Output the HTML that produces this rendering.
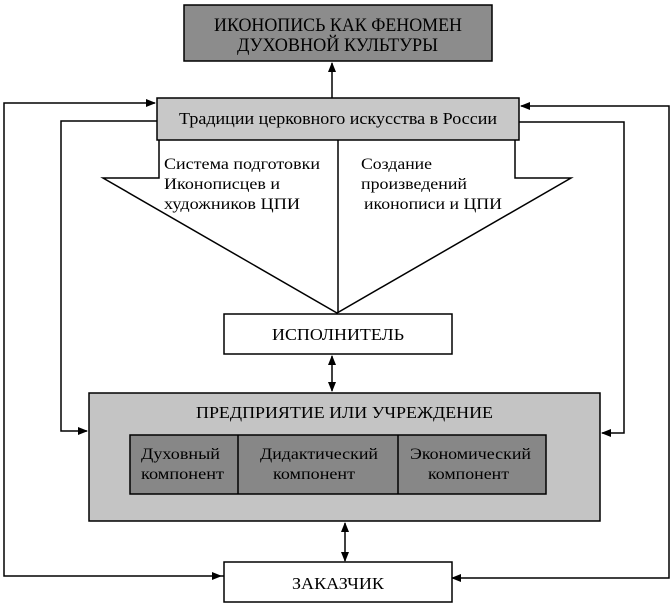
<!DOCTYPE html>
<html><head><meta charset="utf-8"><style>
html,body{margin:0;padding:0;background:#fff;}
svg{display:block;}
text{font-family:"Liberation Serif","DejaVu Serif",serif;fill:#000;}
</style></head><body>
<svg width="672" height="608" viewBox="0 0 672 608" xmlns="http://www.w3.org/2000/svg">
<defs>
<marker id="a" markerWidth="10" markerHeight="8" refX="9" refY="4" orient="auto" markerUnits="userSpaceOnUse">
<path d="M0,0 L10,4 L0,8 Z" fill="#000"/></marker>
<marker id="s" markerWidth="10" markerHeight="8" refX="1" refY="4" orient="auto" markerUnits="userSpaceOnUse">
<path d="M10,0 L0,4 L10,8 Z" fill="#000"/></marker>
</defs>
<g stroke="#000" stroke-width="1.5" fill="none">
<rect x="184" y="5" width="308" height="56" fill="#8c8c8c"/>
<line x1="332" y1="98" x2="332" y2="63" marker-end="url(#a)"/>
<rect x="157" y="98" width="362" height="42" fill="#c8c8c8"/>
<polyline points="224,576 4,576 4,103 155,103" marker-end="url(#a)"/>
<polyline points="452,578 669,578 669,106 521,106" marker-start="url(#s)" marker-end="url(#a)"/>
<polyline points="157,121 61,121 61,431 87,431" marker-end="url(#a)"/>
<polyline points="519,122 624,122 624,433 602,433" marker-end="url(#a)"/>
<polyline points="159,140 159,178 103,178 337,313 571,178 515,178 515,140"/>
<line x1="338" y1="140" x2="338" y2="313"/>
<rect x="224" y="314" width="228" height="40" fill="#fff"/>
<line x1="332" y1="356" x2="332" y2="391" marker-start="url(#s)" marker-end="url(#a)"/>
<rect x="89" y="393" width="511" height="128" fill="#c4c4c4"/>
<rect x="130" y="435" width="416" height="59" fill="#878787"/>
<line x1="238" y1="435" x2="238" y2="494"/>
<line x1="398" y1="435" x2="398" y2="494"/>
<line x1="345" y1="523" x2="345" y2="561" marker-start="url(#s)" marker-end="url(#a)"/>
<rect x="224" y="562" width="228" height="40" fill="#fff"/>
</g>
<path d="M212,572 L222,576 L212,580 Z" fill="#000"/>
<text x="214" y="31" font-size="19" textLength="248" lengthAdjust="spacingAndGlyphs">ИКОНОПИСЬ КАК ФЕНОМЕН</text>
<text x="237" y="51" font-size="19" textLength="201" lengthAdjust="spacingAndGlyphs">ДУХОВНОЙ КУЛЬТУРЫ</text>
<text x="179" y="124" font-size="17" textLength="318" lengthAdjust="spacingAndGlyphs">Традиции церковного искусства в России</text>
<text x="164" y="169" font-size="16" textLength="156" lengthAdjust="spacingAndGlyphs">Система подготовки</text>
<text x="164" y="189" font-size="16" textLength="116" lengthAdjust="spacingAndGlyphs">Иконописцев и</text>
<text x="164" y="209" font-size="16" textLength="136" lengthAdjust="spacingAndGlyphs">художников ЦПИ</text>
<text x="361" y="169" font-size="16" textLength="71" lengthAdjust="spacingAndGlyphs">Создание</text>
<text x="361" y="189" font-size="16" textLength="106" lengthAdjust="spacingAndGlyphs">произведений</text>
<text x="364" y="209" font-size="16" textLength="138" lengthAdjust="spacingAndGlyphs">иконописи и ЦПИ</text>
<text x="272" y="340" font-size="17" textLength="132" lengthAdjust="spacingAndGlyphs">ИСПОЛНИТЕЛЬ</text>
<text x="196" y="418" font-size="17" textLength="297" lengthAdjust="spacingAndGlyphs">ПРЕДПРИЯТИЕ ИЛИ УЧРЕЖДЕНИЕ</text>
<text x="141" y="459" font-size="16" textLength="79" lengthAdjust="spacingAndGlyphs">Духовный</text>
<text x="141" y="479" font-size="16" textLength="83" lengthAdjust="spacingAndGlyphs">компонент</text>
<text x="260" y="459" font-size="16" textLength="118" lengthAdjust="spacingAndGlyphs">Дидактический</text>
<text x="273" y="479" font-size="16" textLength="82" lengthAdjust="spacingAndGlyphs">компонент</text>
<text x="410" y="459" font-size="16" textLength="121" lengthAdjust="spacingAndGlyphs">Экономический</text>
<text x="428" y="479" font-size="16" textLength="81" lengthAdjust="spacingAndGlyphs">компонент</text>
<text x="292" y="589" font-size="17" textLength="92" lengthAdjust="spacingAndGlyphs">ЗАКАЗЧИК</text>
</svg>
</body></html>
